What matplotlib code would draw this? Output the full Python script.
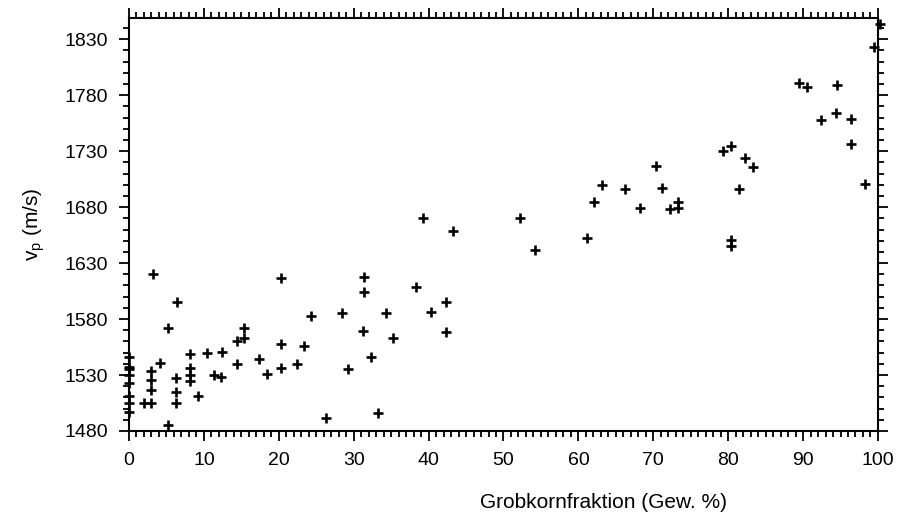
import matplotlib.pyplot as plt
from matplotlib.ticker import MultipleLocator, FixedLocator

plt.rcParams['font.family'] = ['Liberation Sans', 'DejaVu Sans']

# Grobkornfraktion (Gew. %) and P-wave velocity (m/s)
grob = [0, 0, 0, 0, 0, 0, 0, 0,
        2, 3, 3, 3, 3, 3.2, 4.2, 5.2, 5.2,
        6.4, 6.3, 6.3, 6.3, 8.2, 8.2, 8.2, 8.2, 9.2,
        10.4, 11.3, 12.4, 12.3, 14.4, 14.4, 15.4, 15.4,
        17.3, 18.4, 20.3, 20.3, 20.3, 22.4, 23.3, 24.3, 26.3,
        28.4, 29.3, 31.4, 31.4, 31.3, 32.3, 33.2, 34.3, 35.3,
        38.3, 39.3, 40.3, 42.3, 42.3, 43.3, 52.2, 54.2,
        61.1, 62.1, 63.1, 66.2, 68.2, 70.3, 71.2, 72.2, 73.3, 73.3,
        79.3, 80.4, 80.4, 80.4, 81.4, 82.3, 83.3,
        89.4, 90.5, 92.4, 94.5, 94.4, 96.4, 96.4, 98.3, 99.5, 100.3]
vp = [1546, 1537, 1535, 1530, 1523, 1511, 1505, 1497,
      1505, 1534, 1526, 1517, 1505, 1620, 1541, 1572, 1485,
      1595, 1527, 1515, 1505, 1549, 1536, 1530, 1525, 1511,
      1550, 1530, 1551, 1528, 1560, 1540, 1572, 1563,
      1544, 1531, 1617, 1558, 1536, 1540, 1556, 1583, 1492,
      1585, 1535, 1618, 1604, 1569, 1546, 1496, 1585, 1563,
      1609, 1670, 1586, 1595, 1568, 1659, 1670, 1642,
      1652, 1685, 1700, 1696, 1679, 1717, 1697, 1678, 1685, 1679,
      1730, 1735, 1651, 1645, 1696, 1724, 1716,
      1791, 1787, 1758, 1789, 1764, 1759, 1736, 1701, 1823, 1844]
yticks = [1480, 1530, 1580, 1630, 1680, 1730, 1780, 1830]

fig = plt.figure(figsize=(8.99, 5.14), dpi=100)
ax = fig.add_axes([0.1435, 0.1615, 0.8331, 0.8035])

ax.plot(grob, vp, '+', color='black', markersize=7.5, markeredgewidth=1.9, clip_on=False)

ax.set_xlim(0, 100)
ax.set_ylim(1480, 1849)
ax.xaxis.set_major_locator(MultipleLocator(10))
ax.xaxis.set_minor_locator(MultipleLocator(1))
ax.yaxis.set_major_locator(FixedLocator(yticks))
ax.yaxis.set_minor_locator(MultipleLocator(10))
ax.tick_params(which='both', direction='out', top=True, right=True, labelsize=14, width=1.3, pad=8)
ax.tick_params(which='major', length=7)
ax.tick_params(which='minor', length=4)
for s in ax.spines.values():
    s.set_linewidth(1.5)

ax.set_xlabel('Grobkornfraktion (Gew. %)', fontsize=15)
ax.xaxis.set_label_coords(0.633, -0.15)
ax.set_ylabel(r'$\mathregular{v_p}$ (m/s)', fontsize=15)
ax.yaxis.set_label_coords(-0.11, 0.5)

fig.savefig('out.png', dpi=100)
